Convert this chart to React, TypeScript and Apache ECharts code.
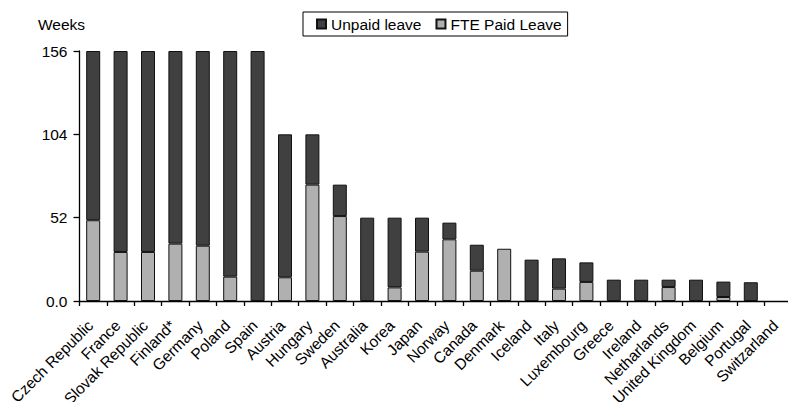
import React, { useEffect, useRef } from "react";
import * as echarts from "echarts";

const categories = [
  "Czech Republic", "France", "Slovak Republic", "Finland*", "Germany", "Poland", "Spain",
  "Austria", "Hungary", "Sweden", "Australia", "Korea", "Japan", "Norway", "Canada",
  "Denmark", "Iceland", "Italy", "Luxembourg", "Greece", "Ireland", "Netharlands",
  "United Kingdom", "Belgium", "Portugal", "Switzarland",
];

const paidLeave = [
  50.4, 30.6, 30.6, 35.8, 34.5, 15.2, 0, 14.8, 72.6, 53, 0, 8.5, 30.8, 38.5, 18.9,
  32.6, 0, 7.7, 11.9, 0, 0, 8.7, 0, 2.5, 0, 0,
];

const unpaidLeave = [
  105.6, 125.4, 125.4, 120.2, 121.5, 140.8, 156, 89.2, 31.4, 19.6, 52, 43.5, 21.2, 10.4, 16.2,
  0, 25.8, 18.9, 12.2, 13.3, 13.3, 4.6, 13.3, 9.6, 11.7, 0,
];

const yTicks = [0, 52, 104, 156];

const FONT = "'Liberation Sans', Arial, Helvetica, sans-serif";
const FS = 15.5;

const orNull = (arr: number[]) => arr.map((v) => (v === 0 ? null : v));

export default function App() {
  const ref = useRef<HTMLDivElement>(null);
  useEffect(() => {
    if (!ref.current) return;
    const chart = echarts.init(ref.current, null, { renderer: "svg" });
    chart.setOption({
      animation: false,
      backgroundColor: "#ffffff",
      textStyle: { fontFamily: FONT, color: "#000" },
      graphic: [
        {
          type: "text",
          left: 38,
          top: 16,
          style: { text: "Weeks", font: `${FS}px ${FONT}`, fill: "#000" },
        },
      ],
      legend: {
        left: 303,
        top: 12,
        data: ["Unpaid leave", "FTE Paid Leave"],
        orient: "horizontal",
        itemWidth: 9,
        itemHeight: 9,
        itemGap: 14,
        borderColor: "#000",
        borderWidth: 1,
        borderRadius: 0,
        padding: [4, 6, 4, 13],
        textStyle: { fontFamily: FONT, fontSize: FS, color: "#000" },
        icon: "rect",
      },
      grid: {
        left: 79.5,
        top: 51,
        width: 712.4,
        bottom: 101,
        containLabel: false,
        outerBoundsMode: "none",
      },
      xAxis: {
        type: "category",
        data: categories,
        boundaryGap: true,
        axisLine: { show: true, lineStyle: { color: "#000", width: 1.3 } },
        axisTick: { show: true, length: 5, alignWithLabel: false, lineStyle: { color: "#000", width: 1.3 } },
        axisLabel: {
          interval: 0,
          rotate: 45,
          margin: 19,
          padding: [0, 4, 0, 0],
          fontFamily: FONT,
          fontSize: FS,
          color: "#000",
        },
        splitLine: { show: false },
      },
      yAxis: {
        type: "value",
        min: 0,
        max: 156,
        interval: 52,
        axisLine: { show: true, lineStyle: { color: "#000", width: 1.3 } },
        axisTick: { show: true, length: 6, lineStyle: { color: "#000", width: 1.3 } },
        axisLabel: {
          margin: 12,
          fontFamily: FONT,
          fontSize: FS,
          color: "#000",
          formatter: (v: number) => (v === yTicks[0] ? "0.0" : String(v)),
        },
        splitLine: { show: false },
      },
      series: [
        {
          name: "FTE Paid Leave",
          type: "bar",
          stack: "leave",
          barWidth: 14,
          data: orNull(paidLeave),
          itemStyle: { color: "#b0b0b0", borderColor: "#111", borderWidth: 1 },
        },
        {
          name: "Unpaid leave",
          type: "bar",
          stack: "leave",
          barWidth: 14,
          data: orNull(unpaidLeave),
          itemStyle: { color: "#404040", borderColor: "#111", borderWidth: 1 },
        },
      ],
    });
    return () => chart.dispose();
  }, []);
  return (
    <div
      ref={ref}
      style={{ position: "absolute", left: 0, top: 0, width: 788, height: 402 }}
    />
  );
}
